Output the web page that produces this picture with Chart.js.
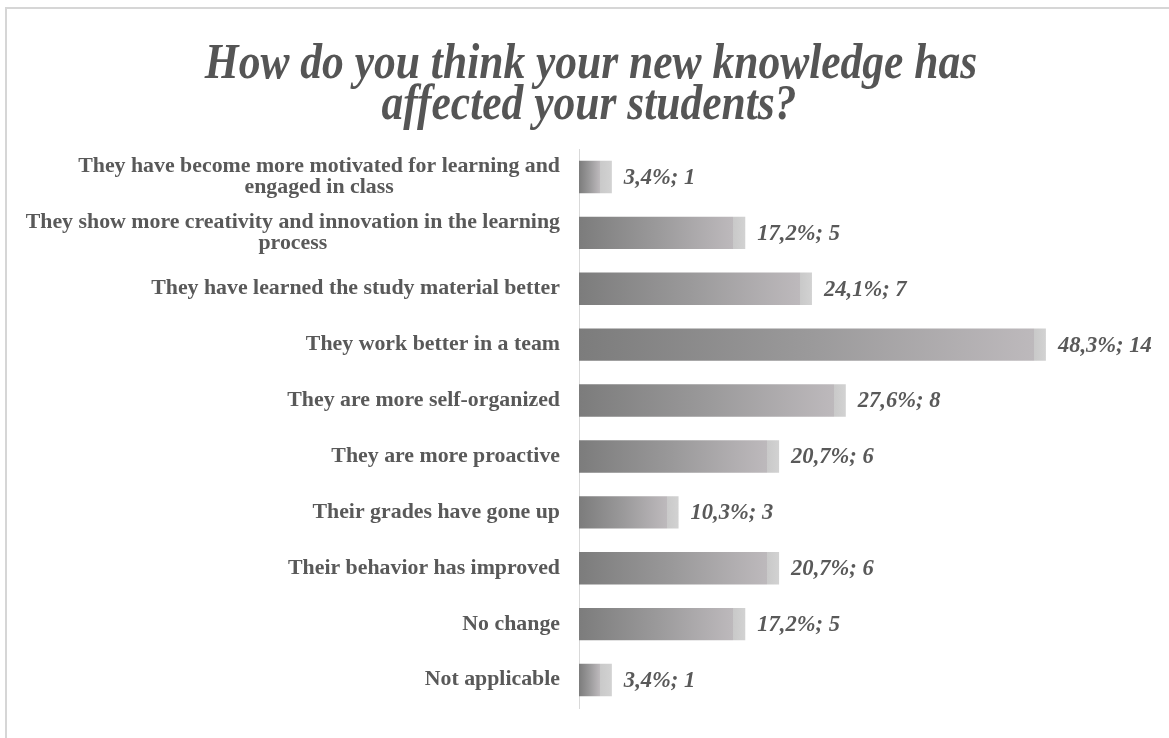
<!DOCTYPE html>
<html>
<head>
<meta charset="utf-8">
<script src="https://cdn.jsdelivr.net/npm/chart.js@4/dist/chart.umd.min.js"></script>
<style>
  html, body { margin: 0; padding: 0; background: #ffffff; }
  #wrap { position: relative; width: 1169px; height: 738px; }
</style>
</head>
<body>
<div id="wrap"><canvas id="chart" width="1169" height="738"></canvas></div>
<script>
// Survey answers (multi-line answers are split where they wrap)
const categories = [
  ['They have become more motivated for learning and', 'engaged in class'],
  ['They show more creativity and innovation in the learning', 'process'],
  ['They have learned the study material better'],
  ['They work better in a team'],
  ['They are more self-organized'],
  ['They are more proactive'],
  ['Their grades have gone up'],
  ['Their behavior has improved'],
  ['No change'],
  ['Not applicable']
];
// Share of respondents (%) and number of respondents
const percents = [3.4, 17.2, 24.1, 48.3, 27.6, 20.7, 10.3, 20.7, 17.2, 3.4];
const counts = [1, 5, 7, 14, 8, 6, 3, 6, 5, 1];
const titleLines = ['How do you think your new knowledge has', 'affected your students?'];

const SERIF = "'Liberation Serif', 'Times New Roman', 'DejaVu Serif', serif";
const TEXT_GRAY = '#595959';

function fmtPct(v) { return v.toFixed(1).replace('.', ',') + '%'; }

// Draw text squeezed/stretched horizontally by sx around the anchor
function drawScaledText(ctx, text, x, y, align, sx) {
  ctx.save();
  ctx.translate(x, y);
  ctx.scale(sx, 1);
  ctx.textAlign = align;
  ctx.fillText(text, 0, 0);
  ctx.restore();
}

// Frame and title
const framePlugin = {
  id: 'frame',
  beforeDraw(chart) {
    const ctx = chart.ctx;
    ctx.save();
    ctx.fillStyle = '#ffffff';
    ctx.fillRect(0, 0, chart.width, chart.height);
    ctx.strokeStyle = '#d6d6d6';
    ctx.lineWidth = 2;
    ctx.beginPath();
    ctx.moveTo(6, chart.height);
    ctx.lineTo(6, 8);
    ctx.lineTo(chart.width, 8);
    ctx.stroke();

    ctx.fillStyle = '#555555';
    ctx.font = 'italic bold 50px ' + SERIF;
    ctx.textBaseline = 'alphabetic';
    drawScaledText(ctx, titleLines[0], 591, 78, 'center', 0.87);
    drawScaledText(ctx, titleLines[1], 589, 119, 'center', 0.87);
    ctx.restore();
  }
};

// Category labels: each block right-aligned, lines centred within the block
const labelPlugin = {
  id: 'catLabels',
  afterDraw(chart) {
    const ctx = chart.ctx;
    const yScale = chart.scales.y;
    const right = 560;
    const lineH = 21;
    const sx = 1.04;
    ctx.save();
    ctx.fillStyle = TEXT_GRAY;
    ctx.font = 'bold 21px ' + SERIF;
    ctx.textBaseline = 'middle';
    categories.forEach((lines, i) => {
      const cy = yScale.getPixelForValue(i);
      const widths = lines.map(l => ctx.measureText(l).width * sx);
      const blockW = Math.max(...widths);
      const cx = right - blockW / 2;
      const top = cy - (lines.length - 1) * lineH / 2;
      lines.forEach((l, k) => drawScaledText(ctx, l, cx, top + k * lineH, 'center', sx));
    });
    ctx.restore();
  }
};

// Value labels at the end of each bar
const valuePlugin = {
  id: 'valueLabels',
  afterDatasetsDraw(chart) {
    const ctx = chart.ctx;
    const meta = chart.getDatasetMeta(0);
    ctx.save();
    ctx.fillStyle = TEXT_GRAY;
    ctx.font = 'italic bold 23px ' + SERIF;
    ctx.textBaseline = 'middle';
    meta.data.forEach((bar, i) => {
      drawScaledText(ctx, fmtPct(percents[i]) + '; ' + counts[i], bar.x + 12, bar.y + 1, 'left', 0.98);
    });
    ctx.restore();
  }
};

function barGradient(context) {
  const chart = context.chart;
  const area = chart.chartArea;
  if (!area) return '#999999';
  const xs = chart.scales.x;
  const v = context.raw;
  const x0 = xs.getPixelForValue(0);
  const x1 = xs.getPixelForValue(v);
  const w = Math.max(1, x1 - x0);
  const g = chart.ctx.createLinearGradient(x0, 0, x1, 0);
  const edge = Math.max(0.05, 1 - 12 / w);
  g.addColorStop(0, '#7c7c7c');
  g.addColorStop(edge * 0.5, '#9a999a');
  g.addColorStop(edge, '#bdb9bc');
  g.addColorStop(Math.min(1, edge + 0.001), '#c9c9c9');
  g.addColorStop(1, '#d2d2d2');
  return g;
}

new Chart(document.getElementById('chart'), {
  type: 'bar',
  data: {
    labels: categories,
    datasets: [{
      data: percents,
      backgroundColor: barGradient,
      borderWidth: 0,
      categoryPercentage: 1,
      barPercentage: 0.58
    }]
  },
  plugins: [framePlugin, labelPlugin, valuePlugin],
  options: {
    indexAxis: 'y',
    responsive: false,
    animation: false,
    layout: { padding: { top: 149, bottom: 30, left: 0, right: 10 } },
    plugins: { legend: { display: false }, tooltip: { enabled: false }, title: { display: false } },
    scales: {
      x: { display: false, min: 0, max: 60 },
      y: {
        afterFit(scale) { scale.width = 579; },
        ticks: { display: false },
        grid: { display: false, drawTicks: false },
        border: { display: true, color: '#d9d9d9', width: 1 }
      }
    }
  }
});
</script>
</body>
</html>
